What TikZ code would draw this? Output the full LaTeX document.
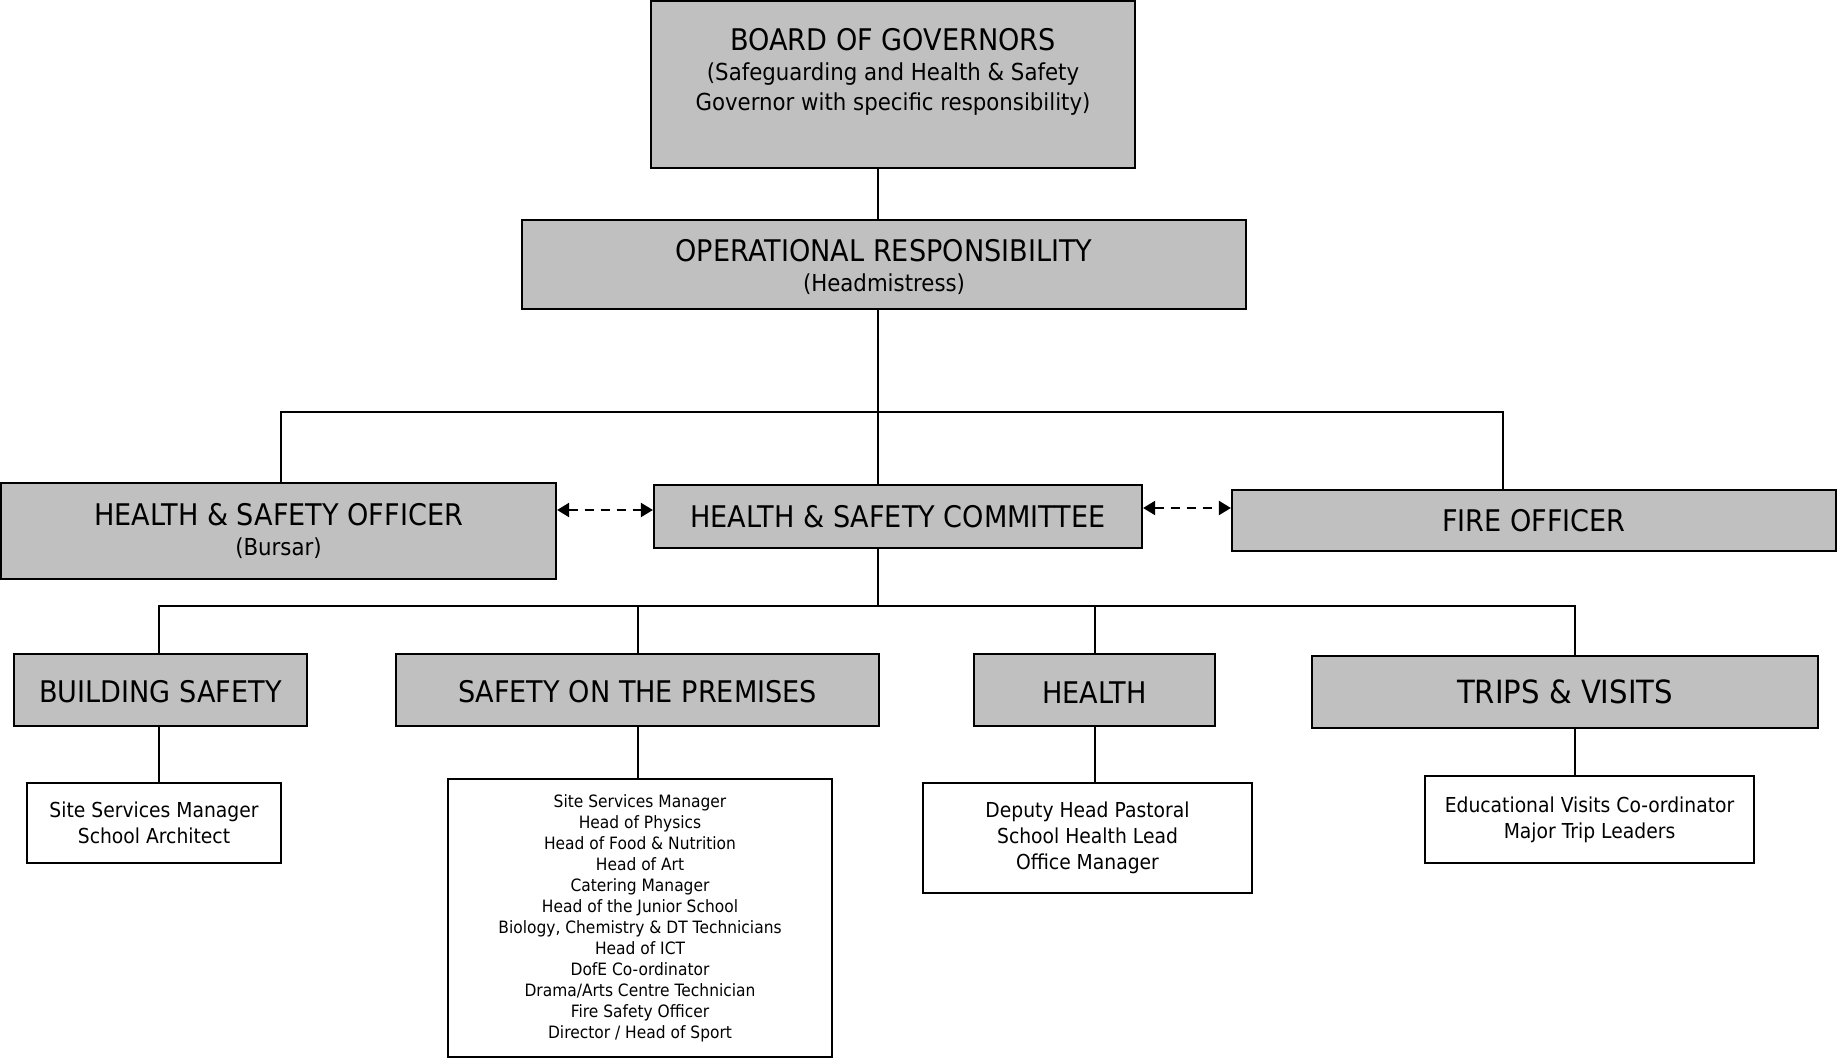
\documentclass[tikz,border=0pt]{standalone}
\usepackage{fontspec}
\setmainfont{DejaVu Sans}[FakeStretch=0.91]
\usetikzlibrary{arrows.meta}
\definecolor{boxgray}{RGB}{192,192,192}
\begin{document}
\begin{tikzpicture}[x=0.5pt,y=-0.5pt,
  gbox/.style={draw=black, line width=1.1pt, fill=boxgray, inner sep=0pt, align=center},
  wbox/.style={draw=black, line width=1.1pt, fill=white, inner sep=0pt, align=center},
  txt/.style={inner sep=0pt, align=center},
  conn/.style={line width=0.8pt},
  dconn/.style={line width=1.1pt, dash pattern=on 4.5pt off 3.5pt,
     {Triangle[length=6pt,width=7pt]}-{Triangle[length=6pt,width=7pt]}},
  bigf/.style={font=\fontsize{14.9}{15}\selectfont},
  midf/.style={font=\fontsize{10.3}{12.9}\selectfont},
  smallf/.style={font=\fontsize{8.5}{10.5}\selectfont}]
\useasboundingbox (0,0) rectangle (1837,1058);

% top boxes
\node[gbox, minimum width=242pt, minimum height=83.5pt] (board) at (893,84.5) {};
\node[txt, bigf] (boardtxt) at (893,71.5) {BOARD OF GOVERNORS\\{\fontsize{11.7}{15}\selectfont (Safeguarding and Health \& Safety}\\{\fontsize{11.7}{15}\selectfont Governor with specific responsibility)}};
\node[gbox, bigf, minimum width=362pt, minimum height=44.5pt] (op) at (884,264.5)
  {\rule{0pt}{14pt}OPERATIONAL RESPONSIBILITY\\{\fontsize{11.7}{15}\selectfont (Headmistress)}};

% middle row
\node[gbox, bigf, minimum width=277.5pt, minimum height=48pt] (hso) at (278.5,531)
  {HEALTH \& SAFETY OFFICER\\{\fontsize{11.7}{15}\selectfont (Bursar)}};
\node[gbox, bigf, minimum width=244pt, minimum height=31.5pt] (hsc) at (898,516.5) {HEALTH \& SAFETY COMMITTEE};
\node[gbox, bigf, minimum width=302pt, minimum height=30.5pt] (fire) at (1534,520.5) {FIRE OFFICER};

% third row
\node[gbox, bigf, minimum width=146.5pt, minimum height=36pt] (bsafe) at (160.5,690) {\rule{0pt}{13.2pt}BUILDING SAFETY};
\node[gbox, bigf, minimum width=241.5pt, minimum height=36pt] (premises) at (637.5,690) {\rule{0pt}{13.2pt}SAFETY ON THE PREMISES};
\node[gbox, bigf, minimum width=120.5pt, minimum height=36pt] (health) at (1094.5,690) {\rule{0pt}{13.2pt}HEALTH};
\node[gbox, font=\fontsize{16}{18}\selectfont, minimum width=253pt, minimum height=36pt] (trips) at (1565,692) {TRIPS \& VISITS};

% lists
\node[wbox, midf, minimum width=127pt, minimum height=40pt] (bsl) at (154,823)
  {Site Services Manager\\School Architect};
\node[wbox, smallf, minimum width=192pt, minimum height=139pt] (prl) at (640,918)
  {Site Services Manager\\Head of Physics\\Head of Food \& Nutrition\\Head of Art\\Catering Manager\\Head of the Junior School\\Biology, Chemistry \& DT Technicians\\Head of ICT\\DofE Co-ordinator\\Drama/Arts Centre Technician\\Fire Safety Officer\\Director / Head of Sport};
\node[wbox, midf, minimum width=164.5pt, minimum height=55pt] (hl) at (1087.5,838)
  {Deputy Head Pastoral\\School Health Lead\\Office Manager};
\node[wbox, midf, minimum width=164.5pt, minimum height=43.5pt] (tl) at (1589.5,819.5)
  {Educational Visits Co-ordinator\\Major Trip Leaders};

% connector coordinates
\coordinate (trunk) at (878,412);
\coordinate (busL) at (281,412);
\coordinate (busR) at (1503,412);
\coordinate (b1) at (159,606);
\coordinate (b2) at (638,606);
\coordinate (b3) at (1095,606);
\coordinate (b4) at (1575,606);
\coordinate (arrA) at (605,510);
\coordinate (arrB) at (1187,508);

\draw[conn] (board.south -| trunk) -- (op.north -| trunk);
\draw[conn] (op.south -| trunk) -- (hsc.north -| trunk);
\draw[conn] (hso.north -| busL) -- (busL) -- (busR) -- (fire.north -| busR);
\draw[conn] (hsc.south -| trunk) -- (trunk |- b1);
\draw[conn] (bsafe.north -| b1) -- (b1) -- (b4) -- (trips.north -| b4);
\draw[conn] (b2) -- (premises.north -| b2);
\draw[conn] (b3) -- (health.north -| b3);

\draw[conn] (bsafe.south -| b1) -- (bsl.north -| b1);
\draw[conn] (premises.south -| b2) -- (prl.north -| b2);
\draw[conn] (health.south -| b3) -- (hl.north -| b3);
\draw[conn] (trips.south -| b4) -- (tl.north -| b4);

\draw[dconn] (hso.east |- arrA) -- (hsc.west |- arrA);
\draw[dconn] (hsc.east |- arrB) -- (fire.west |- arrB);
\end{tikzpicture}
\end{document}
